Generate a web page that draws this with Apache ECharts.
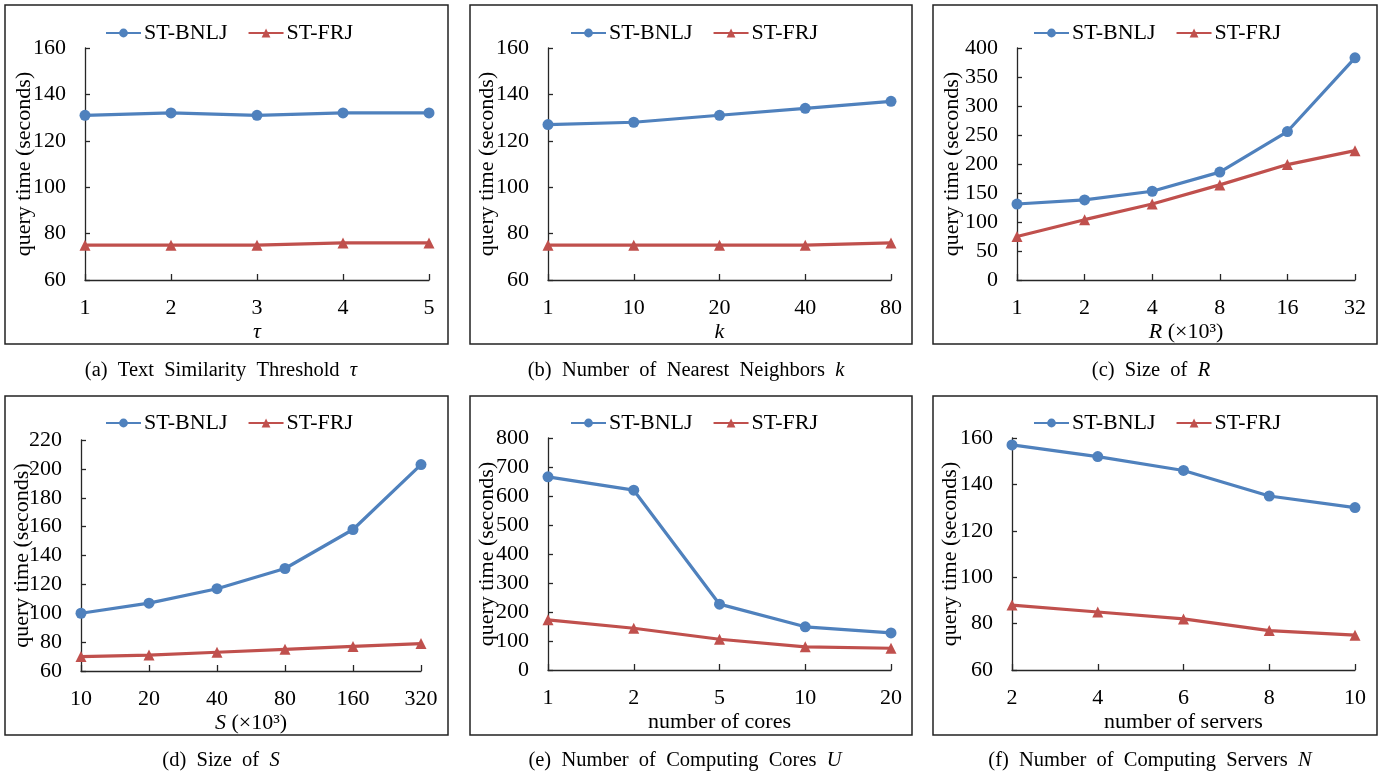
<!DOCTYPE html>
<html>
<head>
<meta charset="utf-8">
<script src="https://cdn.jsdelivr.net/npm/echarts@6/dist/echarts.min.js"></script>
<style>
  html, body { margin: 0; padding: 0; background: #fff; }
  #chart { width: 1388px; height: 775px; }
</style>
</head>
<body>
<div id="chart"></div>
<script>
// ---- data ----
const seriesNames = ['ST-BNLJ', 'ST-FRJ'];

const catA = ['1', '2', '3', '4', '5'];
const bnljA = [131, 132, 131, 132, 132];
const frjA = [75, 75, 75, 76, 76];

const catB = ['1', '10', '20', '40', '80'];
const bnljB = [127, 128, 131, 134, 137];
const frjB = [75, 75, 75, 75, 76];

const catC = ['1', '2', '4', '8', '16', '32'];
const bnljC = [131, 138, 153, 186, 256, 383];
const frjC = [75, 104, 131, 164, 199, 223];

const catD = ['10', '20', '40', '80', '160', '320'];
const bnljD = [100, 107, 117, 131, 158, 203];
const frjD = [70, 71, 73, 75, 77, 79];

const catE = ['1', '2', '5', '10', '20'];
const bnljE = [666, 620, 227, 149, 128];
const frjE = [173, 144, 106, 80, 75];

const catF = ['2', '4', '6', '8', '10'];
const bnljF = [157, 152, 146, 135, 130];
const frjF = [88, 85, 82, 77, 75];

const yRangeA = [60, 160, 20];
const yRangeB = [60, 160, 20];
const yRangeC = [0, 400, 50];
const yRangeD = [60, 220, 20];
const yRangeE = [0, 800, 100];
const yRangeF = [60, 160, 20];

const yName = 'query time (seconds)';
const xNames = ['{i|τ}', '{i|k}', '{i|R} (×10³)', '{i|S} (×10³)', 'number of cores', 'number of servers'];
const captions = [
  '(a)  Text  Similarity  Threshold  {i|τ}',
  '(b)  Number  of  Nearest  Neighbors  {i|k}',
  '(c)  Size  of  {i|R}',
  '(d)  Size  of  {i|S}',
  '(e)  Number  of  Computing  Cores  {i|U}',
  '(f)  Number  of  Computing  Servers  {i|N}'
];

// ---- layout ----
const FONT = 'Liberation Serif';
const BLUE = '#4F81BD';
const RED = '#C0504D';
const AXIS = '#262626';

const panels = [
  { cat: catA, b: bnljA, f: frjA, y: yRangeA, grid: [85, 48, 344, 232], box: [5, 5, 443, 339], legend: [105, 22], yGap: 50, cap: [221, 371] },
  { cat: catB, b: bnljB, f: frjB, y: yRangeB, grid: [548, 48, 343, 232], box: [470, 5, 442, 339], legend: [570, 22], yGap: 50, cap: [686, 371] },
  { cat: catC, b: bnljC, f: frjC, y: yRangeC, grid: [1017, 48, 338, 232], box: [933, 5, 444, 339], legend: [1033, 22], yGap: 54, cap: [1151, 371] },
  { cat: catD, b: bnljD, f: frjD, y: yRangeD, grid: [81, 440, 340, 231], box: [5, 396, 443, 339], legend: [105, 412], yGap: 48, cap: [221, 761] },
  { cat: catE, b: bnljE, f: frjE, y: yRangeE, grid: [548, 438, 343, 232], box: [470, 396, 442, 339], legend: [570, 412], yGap: 50, cap: [685, 761] },
  { cat: catF, b: bnljF, f: frjF, y: yRangeF, grid: [1012, 438, 343, 232], box: [933, 396, 444, 339], legend: [1033, 412], yGap: 51, cap: [1150, 761] }
];

const italicRich = { i: { fontStyle: 'italic', fontFamily: FONT, fontSize: 22, color: '#000' } };

const option = {
  backgroundColor: '#fff',
  animation: false,
  grid: [], xAxis: [], yAxis: [], series: [], legend: [], graphic: []
};

panels.forEach((p, i) => {
  option.grid.push({ left: p.grid[0], top: p.grid[1], width: p.grid[2], height: p.grid[3], containLabel: false });
  option.xAxis.push({
    type: 'category', gridIndex: i, data: p.cat, boundaryGap: false,
    name: xNames[i], nameLocation: 'middle', nameGap: 41, nameMoveOverlap: false,
    nameTextStyle: { fontFamily: FONT, fontSize: 22, color: '#000', rich: italicRich },
    axisLine: { show: true, lineStyle: { color: AXIS, width: 1.3 } },
    axisTick: { show: true, inside: true, length: 6, lineStyle: { color: AXIS, width: 1.3 } },
    axisLabel: { fontFamily: FONT, fontSize: 22, color: '#000', margin: 17 },
    splitLine: { show: false }
  });
  option.yAxis.push({
    type: 'value', gridIndex: i, min: p.y[0], max: p.y[1], interval: p.y[2],
    name: yName, nameLocation: 'middle', nameGap: p.yGap, nameRotate: 90, nameMoveOverlap: false,
    nameTextStyle: { fontFamily: FONT, fontSize: 22, color: '#000' },
    axisLine: { show: true, lineStyle: { color: AXIS, width: 1.3 } },
    axisTick: { show: true, inside: true, length: 5, lineStyle: { color: AXIS, width: 1.3 } },
    axisLabel: { fontFamily: FONT, fontSize: 22, color: '#000', margin: 19 },
    splitLine: { show: false }
  });
  option.series.push({
    name: seriesNames[0], type: 'line', xAxisIndex: i, yAxisIndex: i, data: p.b,
    symbol: 'circle', symbolSize: 11,
    lineStyle: { color: BLUE, width: 3.2 }, itemStyle: { color: BLUE }
  });
  option.series.push({
    name: seriesNames[1], type: 'line', xAxisIndex: i, yAxisIndex: i, data: p.f,
    symbol: 'triangle', symbolSize: 11,
    lineStyle: { color: RED, width: 3.2 }, itemStyle: { color: RED }
  });
  option.legend.push({
    left: p.legend[0], top: p.legend[1], padding: 0, itemGap: 20, itemWidth: 35, itemHeight: 11,
    data: seriesNames, selectedMode: false,
    textStyle: { fontFamily: FONT, fontSize: 22, color: '#000', padding: [0, 0, 0, -2] }
  });
  option.graphic.push({
    type: 'rect', silent: true, z: -1,
    shape: { x: p.box[0], y: p.box[1], width: p.box[2], height: p.box[3] },
    style: { fill: 'none', stroke: '#222', lineWidth: 1.5 }
  });
  option.graphic.push({
    type: 'text', silent: true, x: p.cap[0], y: p.cap[1],
    style: {
      text: captions[i], fontFamily: FONT, fontSize: 20.5, fill: '#000',
      align: 'center', verticalAlign: 'middle',
      rich: { i: { fontStyle: 'italic', fontFamily: FONT, fontSize: 20.5, fill: '#000' } }
    }
  });
});

const chart = echarts.init(document.getElementById('chart'), null, { renderer: 'canvas' });
chart.setOption(option);
</script>
</body>
</html>
